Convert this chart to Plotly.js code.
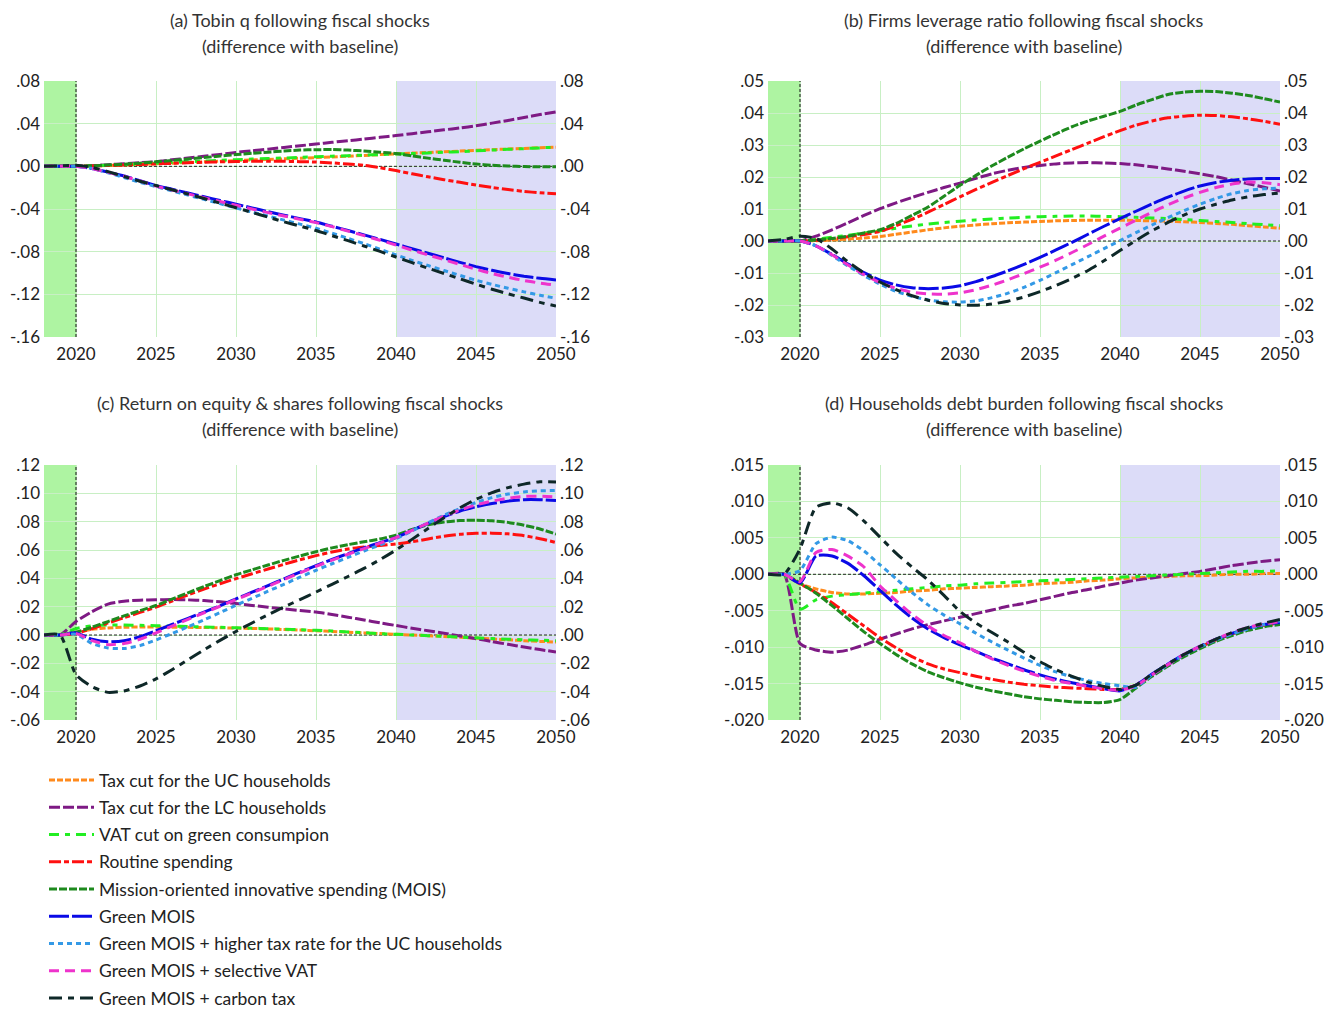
<!DOCTYPE html>
<html>
<head>
<meta charset="utf-8">
<script src="https://cdn.plot.ly/plotly-3.0.1.min.js"></script>
<style>html,body{margin:0;padding:0;background:#fff;overflow:hidden;}#chart{width:1338px;height:1012px;}</style>
</head>
<body>
<div id="chart"></div>
<script>
// ---------- categories ----------
const years = [2018,2019,2020,2021,2022,2023,2024,2025,2026,2027,2028,2029,2030,2031,2032,2033,2034,2035,2036,2037,2038,2039,2040,2041,2042,2043,2044,2045,2046,2047,2048,2049,2050];
const seriesNames = ["Tax cut for the UC households","Tax cut for the LC households","VAT cut on green consumpion","Routine spending","Mission-oriented innovative spending (MOIS)","Green MOIS","Green MOIS + higher tax rate for the UC households","Green MOIS + selective VAT","Green MOIS + carbon tax"];
const panelTitles = ["(a) Tobin q following fiscal shocks","(b) Firms leverage ratio following fiscal shocks","(c) Return on equity & shares following fiscal shocks","(d) Households debt burden following fiscal shocks"];
const subTitle = "(difference with baseline)";
const xTickVals = [2020,2025,2030,2035,2040,2045,2050];
const xTickText = ["2020","2025","2030","2035","2040","2045","2050"];

// ---------- tick labels ----------
const aTickVals = [0.08,0.04,0,-0.04,-0.08,-0.12,-0.16];
const aTickText = [".08",".04",".00","-.04","-.08","-.12","-.16"];
const bTickVals = [0.05,0.04,0.03,0.02,0.01,0,-0.01,-0.02,-0.03];
const bTickText = [".05",".04",".03",".02",".01",".00","-.01","-.02","-.03"];
const cTickVals = [0.12,0.10,0.08,0.06,0.04,0.02,0,-0.02,-0.04,-0.06];
const cTickText = [".12",".10",".08",".06",".04",".02",".00","-.02","-.04","-.06"];
const dTickVals = [0.015,0.010,0.005,0,-0.005,-0.010,-0.015,-0.020];
const dTickText = [".015",".010",".005",".000","-.005","-.010","-.015","-.020"];

// ---------- (a) Tobin q ----------
const a_uc = [0,0,0,.0003,.0008,.0013,.002,.0025,.003,.0036,.0042,.0048,.0054,.006,.0065,.007,.0076,.0082,.0088,.0095,.0102,.011,.0117,.0124,.013,.0137,.0143,.015,.0156,.0162,.0168,.0174,.018];
const a_lc = [0,0,0,.0006,.0015,.0025,.0034,.0044,.0061,.0078,.0095,.0112,.013,.0146,.0161,.0177,.0193,.0209,.0225,.024,.0256,.0272,.0288,.0306,.0324,.0342,.036,.038,.0405,.043,.0458,.0485,.051];
const a_vat = [0,0,0,.0005,.001,.0017,.0024,.003,.0037,.0043,.005,.0056,.0062,.0068,.0073,.0078,.0084,.009,.0095,.01,.0105,.011,.0115,.012,.0126,.0132,.0138,.0145,.0152,.0159,.0166,.0173,.018];
const a_routine = [0,0,0,.0003,.0008,.0013,.0018,.0023,.0028,.0033,.0038,.0042,.0045,.0047,.0048,.0047,.0044,.004,.0032,.0022,.001,-.0013,-.004,-.007,-.0098,-.0125,-.015,-.0175,-.0198,-.0218,-.0235,-.0248,-.0257];
const a_mois = [0,0,0,.0005,.0012,.002,.003,.0042,.0055,.0068,.0082,.0096,.011,.0122,.0133,.0143,.0152,.0156,.0157,.0152,.0144,.0133,.012,.0098,.0077,.0057,.0038,.0022,.001,.0003,-.0002,-.0004,-.0005];
const a_gmois = [0,0,0,-.002,-.0055,-.009,-.0135,-.018,-.0215,-.025,-.0285,-.032,-.0355,-.039,-.0425,-.0458,-.049,-.0522,-.0562,-.0602,-.0643,-.0685,-.0728,-.0772,-.0815,-.0858,-.09,-.094,-.0975,-.1005,-.103,-.105,-.1065];
const a_gmoisTax = [0,0,0,-.002,-.006,-.0105,-.015,-.019,-.023,-.027,-.031,-.035,-.039,-.0428,-.0466,-.0504,-.0542,-.058,-.0627,-.0675,-.0725,-.0777,-.083,-.0882,-.093,-.0977,-.1023,-.1068,-.1107,-.1143,-.1177,-.1208,-.1237];
const a_gmoisVat = [0,0,0,-.002,-.0057,-.0093,-.0138,-.0185,-.0222,-.0258,-.0294,-.033,-.0365,-.04,-.0434,-.0466,-.0497,-.0528,-.0565,-.0607,-.065,-.0693,-.0738,-.0785,-.083,-.0875,-.092,-.0965,-.1005,-.104,-.107,-.1095,-.1115];
const a_gmoisCarbon = [0,.0005,.001,-.001,-.005,-.0095,-.014,-.018,-.022,-.026,-.0302,-.0345,-.0388,-.0432,-.0476,-.052,-.056,-.0602,-.065,-.0697,-.0747,-.0798,-.085,-.0903,-.0955,-.1005,-.1055,-.1105,-.1152,-.1195,-.1235,-.1275,-.131];

// ---------- (b) Firms leverage ratio ----------
const b_uc = [0,0,0,.0001,.0003,.0006,.0009,.0014,.0021,.0028,.0035,.0041,.0046,.005,.0054,.0057,.0059,.0061,.0063,.0064,.0065,.0065,.0065,.0064,.0063,.0062,.006,.0058,.0055,.0052,.0048,.0044,.004];
const b_lc = [0,0,0,.0015,.0035,.0057,.008,.0101,.0119,.0136,.0152,.0167,.0181,.0196,.021,.0221,.023,.0236,.0241,.0244,.0245,.0244,.0242,.0238,.0232,.0225,.0218,.021,.0201,.019,.0179,.0168,.0156];
const b_vat = [0,0,0,.0005,.0012,.0018,.0025,.0032,.004,.0047,.0053,.0058,.0062,.0066,.0069,.0072,.0074,.0076,.0077,.0078,.0078,.0077,.0076,.0074,.0072,.007,.0067,.0064,.0061,.0058,.0054,.0051,.0048];
const b_routine = [0,0,0,.0002,.0007,.0013,.002,.003,.0048,.0068,.009,.0114,.0138,.0161,.0183,.0205,.0226,.0246,.0266,.0286,.0306,.0326,.0345,.0362,.0375,.0385,.039,.0393,.0392,.0388,.0382,.0374,.0365];
const b_mois = [0,0,0,.0003,.0008,.0015,.0025,.0035,.0055,.008,.0106,.014,.0174,.0205,.0235,.0262,.0288,.0312,.0335,.0357,.0375,.039,.0405,.0425,.0442,.0458,.0465,.0468,.0467,.0462,.0455,.0445,.0434];
const b_gmois = [0,0,0,-.0015,-.0042,-.0072,-.0099,-.0122,-.0137,-.0146,-.0149,-.0147,-.014,-.0127,-.0111,-.0093,-.0073,-.0051,-.0028,-.0004,.0021,.0046,.007,.0093,.0116,.0137,.0156,.0172,.0183,.019,.0194,.0195,.0195];
const b_gmoisTax = [0,0,0,-.0015,-.0045,-.0078,-.0108,-.0135,-.0157,-.0173,-.0184,-.019,-.0191,-.0187,-.0177,-.0163,-.0145,-.0123,-.0099,-.0074,-.0049,-.0024,.0001,.0026,.005,.0073,.0095,.0115,.0133,.0148,.0158,.0163,.0165];
const b_gmoisVat = [0,0,0,-.0015,-.0043,-.0075,-.0105,-.013,-.0148,-.016,-.0165,-.0166,-.0162,-.0152,-.0138,-.0121,-.0102,-.0082,-.006,-.0036,-.0011,.0015,.004,.0065,.009,.0113,.0134,.0152,.0167,.0178,.0184,.0182,.0176];
const b_gmoisCarbon = [0,.0005,.0015,.0008,-.0025,-.0065,-.01,-.0128,-.0152,-.0171,-.0185,-.0195,-.02,-.0201,-.0197,-.0188,-.0175,-.0158,-.0139,-.0117,-.0092,-.0062,-.003,.0002,.0032,.0058,.0081,.01,.0115,.0128,.0138,.0145,.015];

// ---------- (c) Return on equity & shares ----------
const c_uc = [0,0,.002,.004,.005,.0055,.0056,.0056,.0055,.0054,.0053,.0051,.0049,.0046,.0043,.0039,.0035,.003,.0025,.002,.0015,.001,.0005,0,-.0005,-.001,-.0016,-.0022,-.0028,-.0034,-.004,-.0045,-.005];
const c_lc = [0,0,.0095,.0165,.0218,.0238,.0246,.0249,.025,.0248,.0243,.0234,.0222,.0209,.0196,.0184,.0173,.0162,.0145,.0126,.0106,.0086,.0067,.0048,.003,.0012,-.0007,-.0026,-.0046,-.0066,-.0085,-.0103,-.012];
const c_vat = [0,0,.0045,.0065,.007,.007,.0068,.0066,.0063,.006,.0057,.0054,.0051,.0048,.0045,.0041,.0037,.0033,.0028,.0022,.0016,.001,.0005,0,-.0005,-.001,-.0015,-.002,-.0025,-.003,-.0034,-.0037,-.004];
const c_routine = [0,0,.001,.0045,.0085,.0122,.016,.0197,.024,.0283,.0324,.0362,.0398,.0432,.0466,.0499,.0531,.056,.0586,.0607,.0622,.0632,.0642,.0658,.0678,.0697,.0711,.0718,.0719,.0714,.0701,.068,.0653];
const c_mois = [0,0,.002,.0055,.0095,.0135,.0172,.0208,.0254,.0298,.0342,.0384,.0425,.046,.0494,.0527,.0558,.0588,.0615,.0638,.0658,.0678,.0705,.0745,.0778,.0798,.0808,.081,.0806,.0795,.0775,.0748,.0712];
const c_gmois = [0,0,.0015,-.003,-.0048,-.004,-.0012,.003,.0074,.0118,.0162,.0206,.0255,.0302,.0349,.0397,.0444,.049,.0533,.0575,.0615,.0652,.0688,.0738,.0788,.0835,.0875,.0905,.0928,.0945,.0955,.0955,.095];
const c_gmoisTax = [0,0,.0005,-.006,-.0092,-.0095,-.0075,-.0035,.001,.0058,.0107,.0158,.021,.0259,.0309,.0358,.0408,.0457,.0503,.0548,.0593,.0636,.068,.0735,.0792,.0845,.0893,.0935,.097,.0995,.101,.1018,.102];
const c_gmoisVat = [0,0,.001,-.004,-.0068,-.006,-.003,.0015,.0062,.011,.0157,.0203,.025,.0297,.0344,.0392,.0439,.0485,.0528,.057,.061,.0648,.0688,.0738,.079,.0838,.0882,.0918,.0945,.0965,.0978,.098,.0975];
const c_gmoisCarbon = [0,0,-.028,-.0365,-.0405,-.0395,-.036,-.031,-.0245,-.0175,-.0105,-.0038,.0025,.0085,.0143,.0198,.025,.0303,.0358,.0413,.047,.0532,.06,.0675,.0752,.0828,.0898,.0958,.1005,.104,.1065,.1082,.108];

// ---------- (d) Households debt burden ----------
const d_uc = [0,0,-.0013,-.002,-.0025,-.0027,-.0027,-.0026,-.0025,-.0023,-.0022,-.002,-.0019,-.0018,-.0017,-.0016,-.0015,-.0013,-.0012,-.0011,-.0009,-.0008,-.0006,-.0005,-.0004,-.0003,-.0002,-.0002,-.0001,0,0,.0001,.0001];
const d_lc = [0,0,-.0095,-.0104,-.0107,-.0104,-.0097,-.0089,-.0082,-.0075,-.0069,-.0064,-.0059,-.0054,-.0049,-.0044,-.004,-.0035,-.003,-.0025,-.0021,-.0016,-.0012,-.0008,-.0005,-.0002,.0001,.0004,.0008,.0012,.0015,.0018,.002];
const d_vat = [0,0,-.0048,-.0035,-.003,-.0028,-.0026,-.0024,-.0022,-.002,-.0018,-.0016,-.0015,-.0013,-.0012,-.0011,-.001,-.0009,-.0008,-.0007,-.0006,-.0005,-.0004,-.0003,-.0002,-.0001,0,.0001,.0002,.0003,.0004,.0004,.0005];
const d_routine = [0,0,-.0013,-.0025,-.0039,-.0055,-.0071,-.0087,-.0101,-.0113,-.0123,-.013,-.0135,-.014,-.0144,-.0148,-.0151,-.0153,-.0155,-.0156,-.0157,-.0158,-.0158,-.0152,-.0138,-.0124,-.0111,-.01,-.009,-.0082,-.0075,-.007,-.0067];
const d_mois = [0,0,-.0012,-.0026,-.0043,-.0061,-.0079,-.0095,-.011,-.0123,-.0134,-.0142,-.0149,-.0155,-.016,-.0164,-.0168,-.0171,-.0173,-.0175,-.0176,-.0176,-.0172,-.0156,-.014,-.0126,-.0113,-.0102,-.0092,-.0084,-.0077,-.0072,-.0069];
const d_gmois = [0,0,-.0012,.0025,.0025,.0015,-.0002,-.0022,-.0042,-.006,-.0075,-.0087,-.0097,-.0106,-.0115,-.0123,-.0131,-.0138,-.0144,-.0149,-.0153,-.0157,-.016,-.0152,-.0137,-.0123,-.011,-.0099,-.0089,-.0081,-.0074,-.0069,-.0066];
const d_gmoisTax = [0,0,.0005,.0042,.0051,.0046,.0032,.0013,-.0006,-.0025,-.0042,-.0056,-.0068,-.0081,-.0093,-.0104,-.0115,-.0125,-.0134,-.0141,-.0146,-.015,-.0153,-.0155,-.0138,-.0124,-.0111,-.01,-.009,-.0082,-.0075,-.0069,-.0064];
const d_gmoisVat = [0,0,-.001,.003,.0034,.0025,.001,-.0016,-.0036,-.0055,-.0071,-.0084,-.0094,-.0106,-.0116,-.0125,-.0133,-.014,-.0146,-.015,-.0154,-.0157,-.0159,-.0153,-.0138,-.0124,-.011,-.0099,-.0089,-.008,-.0073,-.0068,-.0065];
const d_gmoisCarbon = [0,0,.0035,.0092,.0098,.0091,.0073,.0051,.0029,.001,-.0008,-.0029,-.0051,-.0067,-.008,-.0093,-.0107,-.012,-.0131,-.014,-.0148,-.0154,-.0158,-.0152,-.0137,-.0123,-.011,-.0099,-.0089,-.008,-.0073,-.0067,-.0062];

// ---------- styling ----------
const colors = ["#FF8A1C","#7E1A84","#22EE22","#FF1010","#1E8A1E","#0A0AE6","#3399E6","#EE33CC","#0E2828"];
const dashes = ["6px,2px","11px,3px","10px,6px,5px,6px","12px,3px,5px,3px","8px,2px","20px,3px","5px,4px","10px,6px","13px,6px,6px,6px"];
const FONT = "Lato, 'Open Sans', sans-serif";

const panels = [
  {data:[a_uc,a_lc,a_vat,a_routine,a_mois,a_gmois,a_gmoisTax,a_gmoisVat,a_gmoisCarbon], range:[-0.16,0.08], tv:aTickVals, tt:aTickText},
  {data:[b_uc,b_lc,b_vat,b_routine,b_mois,b_gmois,b_gmoisTax,b_gmoisVat,b_gmoisCarbon], range:[-0.03,0.05], tv:bTickVals, tt:bTickText},
  {data:[c_uc,c_lc,c_vat,c_routine,c_mois,c_gmois,c_gmoisTax,c_gmoisVat,c_gmoisCarbon], range:[-0.06,0.12], tv:cTickVals, tt:cTickText},
  {data:[d_uc,d_lc,d_vat,d_routine,d_mois,d_gmois,d_gmoisTax,d_gmoisVat,d_gmoisCarbon], range:[-0.02,0.015], tv:dTickVals, tt:dTickText}
];

const W = 1338, H = 1012;
const xDomL = [44/W, 556/W], xDomR = [768/W, 1280/W];
const yDomT = [(H-337)/H, (H-81)/H], yDomB = [(H-720)/H, (H-465)/H];
const xDoms = [xDomL, xDomR, xDomL, xDomR];
const yDoms = [yDomT, yDomT, yDomB, yDomB];
const tickFont = {family: FONT, size: 17, color: "#222"};

const traces = [];
const layout = {
  width: W, height: H,
  margin: {l:0, r:0, t:0, b:0, autoexpand: false},
  paper_bgcolor: "#fff", plot_bgcolor: "#fff",
  font: {family: FONT, size: 16, color: "#222"},
  showlegend: true,
  legend: {x: 44/W, y: 1-762/H, xanchor: "left", yanchor: "top", traceorder: "grouped", tracegroupgap: 1.5,
           font: {family: FONT, size: 17.5, color: "#222"}, bgcolor: "rgba(0,0,0,0)", itemwidth: 45},
  shapes: [], annotations: []
};

panels.forEach((p, i) => {
  const n = i + 1;
  const xa = n === 1 ? "x" : "x" + n;
  const ya = n === 1 ? "y" : "y" + n;
  const yr = "y" + (n + 4);
  layout[n === 1 ? "xaxis" : "xaxis" + n] = {
    domain: xDoms[i], anchor: ya, range: [2018, 2050], tickvals: xTickVals, ticktext: xTickText,
    showgrid: true, gridcolor: "#c8efc4", gridwidth: 1, zeroline: false, showline: false, ticks: "",
    tickfont: tickFont, ticklabelstandoff: 5, automargin: false
  };
  layout[n === 1 ? "yaxis" : "yaxis" + n] = {
    domain: yDoms[i], anchor: xa, range: p.range, tickvals: p.tv, ticktext: p.tt,
    showgrid: true, gridcolor: "#c8efc4", gridwidth: 1, zeroline: false, showline: false, ticks: "",
    tickfont: tickFont, ticklabelstandoff: 3, automargin: false
  };
  layout["yaxis" + (n + 4)] = {
    overlaying: ya, side: "right", anchor: xa, range: p.range, tickvals: p.tv, ticktext: p.tt,
    showgrid: false, zeroline: false, showline: false, ticks: "",
    tickfont: tickFont, ticklabelstandoff: 3, automargin: false
  };
  // shaded periods
  layout.shapes.push({type:"rect", xref:xa, yref:ya, x0:2018, x1:2020, y0:p.range[0], y1:p.range[1], fillcolor:"#aef4a2", line:{width:0}, layer:"below"});
  layout.shapes.push({type:"rect", xref:xa, yref:ya, x0:2040, x1:2050, y0:p.range[0], y1:p.range[1], fillcolor:"#dcdcf8", line:{width:0}, layer:"below"});
  // zero line & shock line
  layout.shapes.push({type:"line", xref:xa, yref:ya, x0:2018, x1:2050, y0:0, y1:0, line:{color:"#222", width:1, dash:"3px,2px"}, layer:"between"});
  layout.shapes.push({type:"line", xref:xa, yref:ya, x0:2020, x1:2020, y0:p.range[0], y1:p.range[1], line:{color:"#111", width:1, dash:"3px,2px"}, layer:"between"});
  // titles
  const cx = (xDoms[i][0] + xDoms[i][1]) / 2;
  const top = i < 2 ? 20 : 403;
  layout.annotations.push({xref:"paper", yref:"paper", x:cx, y:1-top/H, text:panelTitles[i], showarrow:false, xanchor:"center", yanchor:"middle", font:{family:FONT, size:18, color:"#333"}});
  layout.annotations.push({xref:"paper", yref:"paper", x:cx, y:1-(top+26)/H, text:subTitle, showarrow:false, xanchor:"center", yanchor:"middle", font:{family:FONT, size:18, color:"#333"}});

  p.data.forEach((vals, k) => {
    traces.push({
      type: "scatter", mode: "lines", x: years, y: vals, xaxis: xa, yaxis: ya,
      name: seriesNames[k], legendgroup: "g" + k, showlegend: i === 0,
      line: {color: colors[k], width: 3, dash: dashes[k], shape: "spline", smoothing: 0.6},
      hoverinfo: "skip"
    });
  });
  // invisible trace to activate right axis
  traces.push({type:"scatter", mode:"lines", x:[2018,2050], y:p.range, xaxis:xa, yaxis:yr, showlegend:false, line:{width:0}, opacity:0, hoverinfo:"skip"});
});

Plotly.newPlot("chart", traces, layout, {staticPlot: true});
</script>
</body>
</html>
